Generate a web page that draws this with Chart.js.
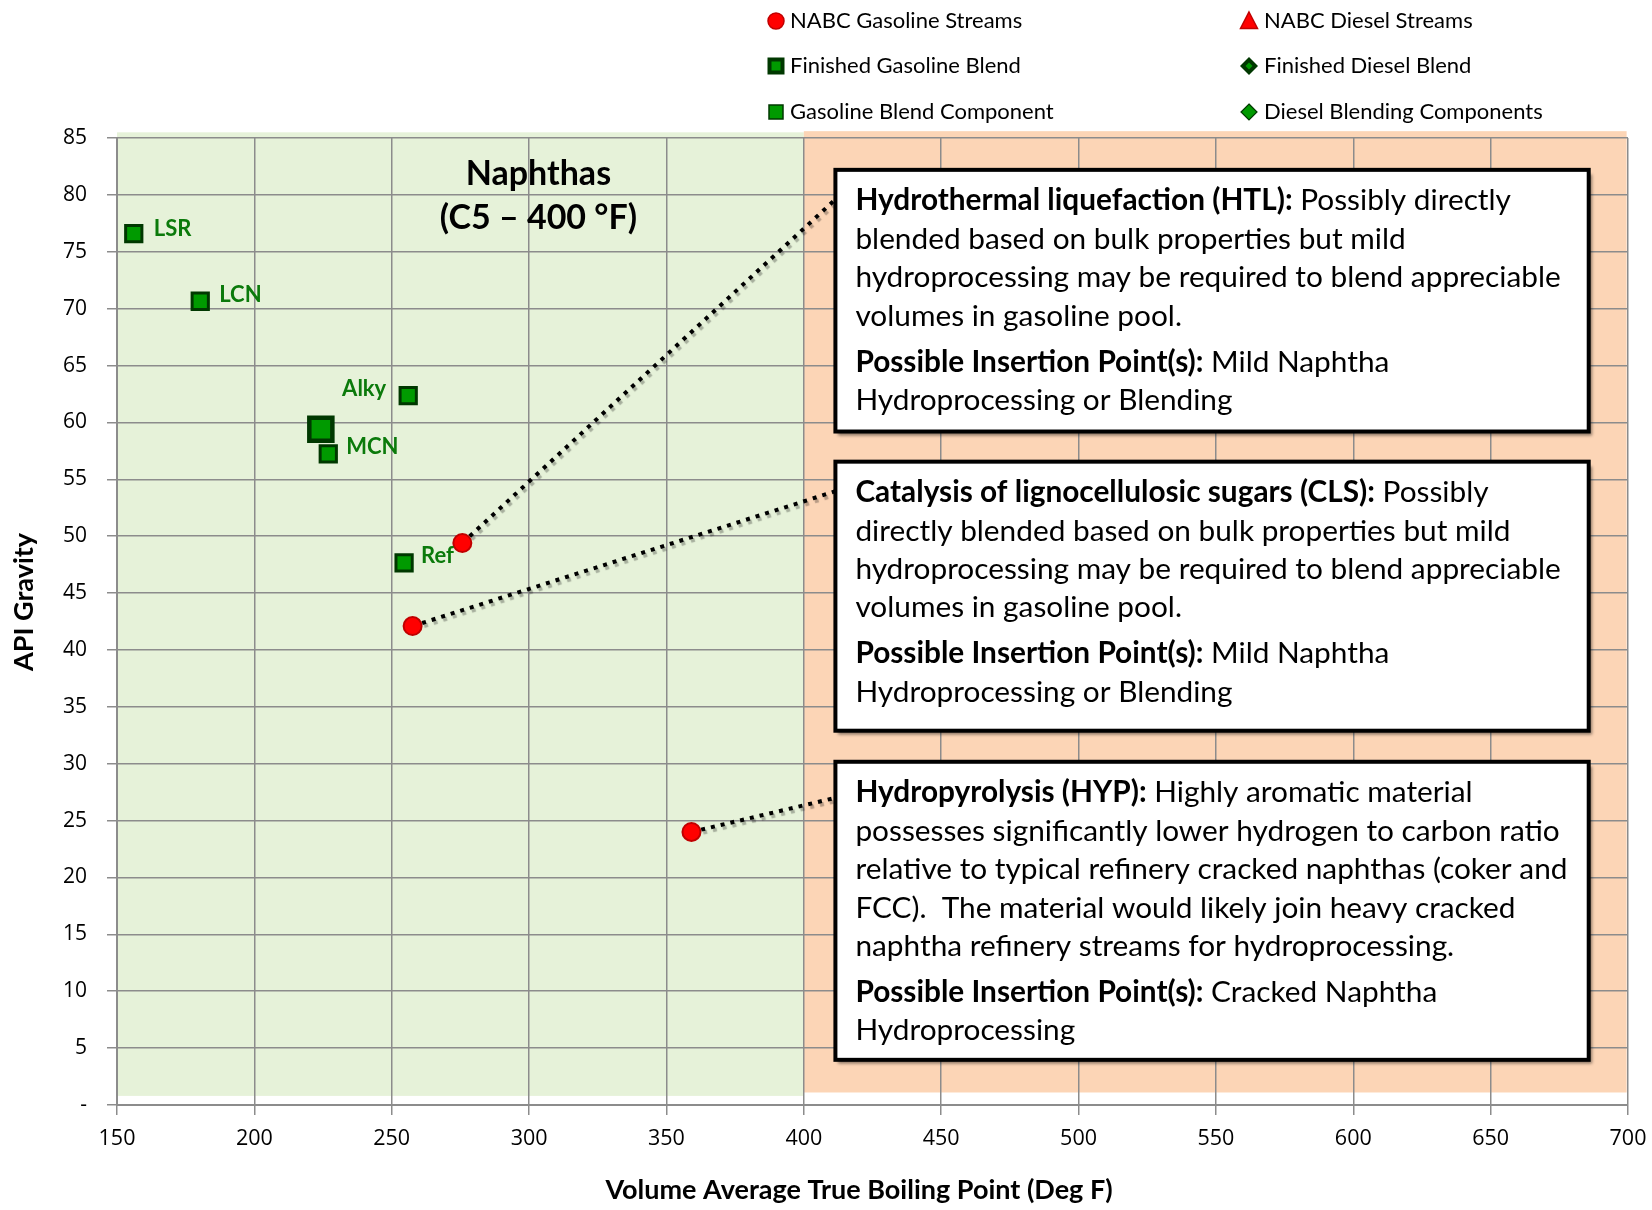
<!DOCTYPE html>
<html><head><meta charset="utf-8">
<script src="https://cdn.jsdelivr.net/npm/chart.js@4.4.0/dist/chart.umd.min.js"></script>
<style>html,body{margin:0;padding:0;background:#fff}#wrap{width:1652px;height:1210px}</style>
</head><body><div id="wrap"><canvas id="c" width="1652" height="1210"></canvas></div>
<script>
// ---------- data ----------
const seriesNames = ['NABC Gasoline Streams','NABC Diesel Streams','Finished Gasoline Blend','Finished Diesel Blend','Gasoline Blend Component','Diesel Blending Components'];
const nabcGasolineNames = ['HTL','CLS','HYP'];
const nabcGasolineX = [275.7, 257.6, 359.1];
const nabcGasolineY = [49.4, 42.1, 24.0];
const finishedGasolineX = [224.2];
const finishedGasolineY = [59.4];
const componentNames = ['LSR','LCN','Alky','MCN','Ref'];
const componentX = [156.1, 180.3, 256.0, 226.9, 254.5];
const componentY = [76.6, 70.65, 62.36, 57.23, 47.65];
const xRange = [150, 700], xStep = 50;
const yRange = [0, 85], yStep = 5;
const naphthaRegionX = [150, 400], naphthaRegionY = [0.8, 85.5];
const heavyRegionX = [400, 699.5], heavyRegionY = [1.1, 85.6];
const calloutX = [411.5, 685.7];
const calloutTop = [82.2, 56.55, 30.17];
const calloutBottom = [59.2, 32.9, 3.97];
const leaderEndY = [79.6, 53.95, 27.0];
const regionTitle = ['Naphthas', '(C5 \u2013 400 \u00B0F)'];
const regionTitleAt = [303.4, 81.8, 78.0];
const xTitle = 'Volume Average True Boiling Point (Deg F)';
const yTitle = 'API Gravity';
const calloutText = [
  [[['Hydrothermal liquefaction (HTL):',1],[' Possibly directly',0]],
   [['blended based on bulk properties but mild',0]],
   [['hydroprocessing may be required to blend appreciable',0]],
   [['volumes in gasoline pool.',0]],
   'gap',
   [['Possible Insertion Point(s):',1],[' Mild Naphtha',0]],
   [['Hydroprocessing or Blending',0]]],
  [[['Catalysis of lignocellulosic sugars (CLS):',1],[' Possibly',0]],
   [['directly blended based on bulk properties but mild',0]],
   [['hydroprocessing may be required to blend appreciable',0]],
   [['volumes in gasoline pool.',0]],
   'gap',
   [['Possible Insertion Point(s):',1],[' Mild Naphtha',0]],
   [['Hydroprocessing or Blending',0]]],
  [[['Hydropyrolysis (HYP):',1],[' Highly aromatic material',0]],
   [['possesses significantly lower hydrogen to carbon ratio',0]],
   [['relative to typical refinery cracked naphthas (coker and',0]],
   [['FCC).  The material would likely join heavy cracked',0]],
   [['naphtha refinery streams for hydroprocessing.',0]],
   'gap',
   [['Possible Insertion Point(s):',1],[' Cracked Naphtha',0]],
   [['Hydroprocessing',0]]]
];

// ---------- styles ----------
const RED = '#ff0000', RED_DK = '#c00000', GREEN = '#009a00', GREEN_DK = '#003800', LABEL_GREEN = '#0b7a0b';
const GRID = '#8c8c8c';
const labelOffsets = { LSR:[20,-5,'left'], LCN:[19,-6,'left'], Alky:[-22,-7,'right'], MCN:[18,-7,'left'], Ref:[17,-7,'left'] };
const BOX_FS = 29.8, BOX_LH = 38.4, BOX_GAP = 7.6;

const leaderSets = nabcGasolineX.map((x, i) => ({
  label: 'leader ' + nabcGasolineNames[i], isLeader: true,
  data: [{x: x, y: nabcGasolineY[i]}, {x: calloutX[0], y: leaderEndY[i]}],
  showLine: true, pointRadius: 0, borderColor: '#000', borderWidth: 4, borderDash: [4, 6],
  borderCapStyle: 'butt', fill: false, order: 10
}));

const datasets = [
  {label: seriesNames[0], data: nabcGasolineX.map((x,i)=>({x:x, y:nabcGasolineY[i]})), pointStyle:'circle', pointRadius:9, backgroundColor:RED, borderColor:RED_DK, borderWidth:2, order:0, marker:'circle'},
  {label: seriesNames[1], data: [], pointStyle:'triangle', backgroundColor:RED, borderColor:RED_DK, order:0, marker:'triangle'},
  {label: seriesNames[2], data: finishedGasolineX.map((x,i)=>({x:x, y:finishedGasolineY[i]})), pointStyle:'rect', pointRadius:16.3, backgroundColor:GREEN, borderColor:GREEN_DK, borderWidth:4.5, order:1, marker:'bigSquare'},
  {label: seriesNames[3], data: [], pointStyle:'rectRot', backgroundColor:GREEN, borderColor:GREEN_DK, order:1, marker:'bigDiamond'},
  {label: seriesNames[4], data: componentX.map((x,i)=>({x:x, y:componentY[i]})), pointStyle:'rect', pointRadius:11.5, backgroundColor:GREEN, borderColor:GREEN_DK, borderWidth:3, order:0, marker:'square'},
  {label: seriesNames[5], data: [], pointStyle:'rectRot', backgroundColor:GREEN, borderColor:GREEN_DK, order:0, marker:'diamond'}
].concat(leaderSets);

// ---------- plugins ----------
const backgroundPlugin = {
  id: 'regions',
  beforeDraw(chart) {
    const {ctx, scales:{x, y}} = chart;
    ctx.save();
    ctx.fillStyle = '#fff'; ctx.fillRect(0, 0, chart.width, chart.height);
    [[naphthaRegionX, naphthaRegionY, '#e6f2d9'], [heavyRegionX, heavyRegionY, '#fcd5b6']].forEach(([rx, ry, col]) => {
      const x0 = x.getPixelForValue(rx[0]), x1 = x.getPixelForValue(rx[1]);
      const y0 = y.getPixelForValue(ry[1]), y1 = y.getPixelForValue(ry[0]);
      ctx.fillStyle = col; ctx.fillRect(x0, y0, x1 - x0, y1 - y0);
    });
    ctx.restore();
  },
  beforeDatasetDraw(chart, args) {
    if (args.meta && chart.data.datasets[args.index].isLeader) {
      const ctx = chart.ctx; ctx.save();
      ctx.shadowColor = 'rgba(0,0,0,0.28)'; ctx.shadowOffsetX = 2; ctx.shadowOffsetY = 3; ctx.shadowBlur = 1;
      args.meta._shadowed = true;
    }
  },
  afterDatasetDraw(chart, args) {
    if (args.meta && args.meta._shadowed) { chart.ctx.restore(); args.meta._shadowed = false; }
  },
  afterDatasetsDraw(chart) {
    const {ctx, scales:{x, y}} = chart;
    ctx.save();
    // component labels
    const meta = chart.getDatasetMeta(4);
    ctx.font = 'bold 22px Lato'; ctx.fillStyle = LABEL_GREEN; ctx.textBaseline = 'middle';
    meta.data.forEach((pt, i) => {
      const o = labelOffsets[componentNames[i]];
      ctx.textAlign = o[2];
      ctx.fillText(componentNames[i], pt.x + o[0], pt.y + o[1]);
    });
    // region title
    ctx.fillStyle = '#000'; ctx.textAlign = 'center'; ctx.font = 'bold 34px Lato';
    ctx.fillText(regionTitle[0], x.getPixelForValue(regionTitleAt[0]), y.getPixelForValue(regionTitleAt[1]));
    ctx.fillText(regionTitle[1], x.getPixelForValue(regionTitleAt[0]), y.getPixelForValue(regionTitleAt[2]));
    // callout boxes
    const bx0 = x.getPixelForValue(calloutX[0]), bx1 = x.getPixelForValue(calloutX[1]);
    calloutTop.forEach((top, i) => {
      const by0 = y.getPixelForValue(top), by1 = y.getPixelForValue(calloutBottom[i]);
      ctx.save();
      ctx.shadowColor = 'rgba(0,0,0,0.45)'; ctx.shadowOffsetX = 3; ctx.shadowOffsetY = 4; ctx.shadowBlur = 3;
      ctx.fillStyle = '#fff'; ctx.fillRect(bx0, by0, bx1 - bx0, by1 - by0);
      ctx.restore();
      ctx.lineWidth = 4; ctx.strokeStyle = '#000';
      ctx.strokeRect(bx0, by0, bx1 - bx0, by1 - by0);
      ctx.textAlign = 'left'; ctx.textBaseline = 'middle'; ctx.fillStyle = '#000';
      let ty = by0 + 31;
      calloutText[i].forEach(line => {
        if (line === 'gap') { ty += BOX_GAP; return; }
        let tx = bx0 + 20;
        line.forEach(([t, b]) => {
          ctx.font = (b ? 'bold ' : '') + BOX_FS + 'px Lato';
          ctx.fillText(t, tx, ty);
          tx += ctx.measureText(t).width;
        });
        ty += BOX_LH;
      });
    });
    ctx.restore();
  },
  afterDraw(chart) {
    const ctx = chart.ctx;
    ctx.save();
    // axis titles
    ctx.fillStyle = '#000'; ctx.textAlign = 'center'; ctx.textBaseline = 'middle';
    ctx.font = 'bold 27px Lato';
    ctx.fillText(xTitle, 859, 1190);
    ctx.save(); ctx.translate(24, 602); ctx.rotate(-Math.PI / 2);
    ctx.fillText(yTitle, 0, 0); ctx.restore();
    // legend
    const colX = [776, 1249], textX = [790, 1264], rowY = [21, 66, 112];
    ctx.font = '22px Lato'; ctx.textBaseline = 'middle'; ctx.textAlign = 'left'; ctx.fillStyle = '#000';
    chart.data.datasets.filter(d => d.marker).forEach((d, i) => {
      const cx = colX[i % 2], cy = rowY[Math.floor(i / 2)];
      ctx.save();
      ctx.fillStyle = d.backgroundColor; ctx.strokeStyle = d.borderColor;
      ctx.beginPath();
      if (d.marker === 'circle') { ctx.arc(cx, cy, 8, 0, Math.PI * 2); ctx.lineWidth = 1.5; ctx.fill(); ctx.stroke(); }
      else if (d.marker === 'triangle') { ctx.moveTo(cx, cy - 9); ctx.lineTo(cx + 8.5, cy + 7.5); ctx.lineTo(cx - 8.5, cy + 7.5); ctx.closePath(); ctx.lineWidth = 1.5; ctx.fill(); ctx.stroke(); }
      else if (d.marker === 'bigSquare') { ctx.rect(cx - 6.5, cy - 6.5, 13, 13); ctx.lineWidth = 4; ctx.fill(); ctx.stroke(); }
      else if (d.marker === 'square') { ctx.rect(cx - 7, cy - 7, 14, 14); ctx.lineWidth = 1.5; ctx.fill(); ctx.stroke(); }
      else if (d.marker === 'bigDiamond') {
        ctx.moveTo(cx, cy - 9); ctx.lineTo(cx + 9, cy); ctx.lineTo(cx, cy + 9); ctx.lineTo(cx - 9, cy); ctx.closePath();
        ctx.fillStyle = d.borderColor; ctx.fill();
        ctx.beginPath(); ctx.moveTo(cx, cy - 3.5); ctx.lineTo(cx + 3.5, cy); ctx.lineTo(cx, cy + 3.5); ctx.lineTo(cx - 3.5, cy); ctx.closePath();
        ctx.fillStyle = d.backgroundColor; ctx.fill();
      }
      else if (d.marker === 'diamond') { ctx.moveTo(cx, cy - 8); ctx.lineTo(cx + 8, cy); ctx.lineTo(cx, cy + 8); ctx.lineTo(cx - 8, cy); ctx.closePath(); ctx.lineWidth = 1.2; ctx.fill(); ctx.stroke(); }
      ctx.restore();
      ctx.fillText(d.label, textX[i % 2], cy);
    });
    ctx.restore();
  }
};

// ---------- chart ----------
new Chart(document.getElementById('c'), {
  type: 'scatter',
  data: { datasets: datasets },
  options: {
    responsive: false, animation: false, events: [],
    layout: { padding: { top: 138, right: 24, left: 0, bottom: 0 } },
    plugins: { legend: { display: false }, tooltip: { enabled: false } },
    scales: {
      x: {
        type: 'linear', min: xRange[0], max: xRange[1],
        ticks: { stepSize: xStep, color: '#000', padding: 11, font: { family: 'Open Sans', size: 21.5 } },
        grid: { color: GRID, lineWidth: 1.5, tickLength: 10, drawOnChartArea: true },
        border: { color: GRID, width: 2 },
        title: { display: false },
        afterFit(s) { s.height = 105; s.paddingLeft = 0; s.paddingRight = 0; }
      },
      y: {
        type: 'linear', min: yRange[0], max: yRange[1],
        ticks: { stepSize: yStep, color: '#000', padding: 20, font: { family: 'Open Sans', size: 21 }, callback: v => v === 0 ? '-' : v },
        grid: { color: GRID, lineWidth: 1.5, tickLength: 10 },
        border: { color: GRID, width: 2 },
        title: { display: false },
        afterFit(s) { s.width = 117; s.paddingTop = 0; s.paddingBottom = 0; }
      }
    }
  },
  plugins: [backgroundPlugin]
});
</script></body></html>
